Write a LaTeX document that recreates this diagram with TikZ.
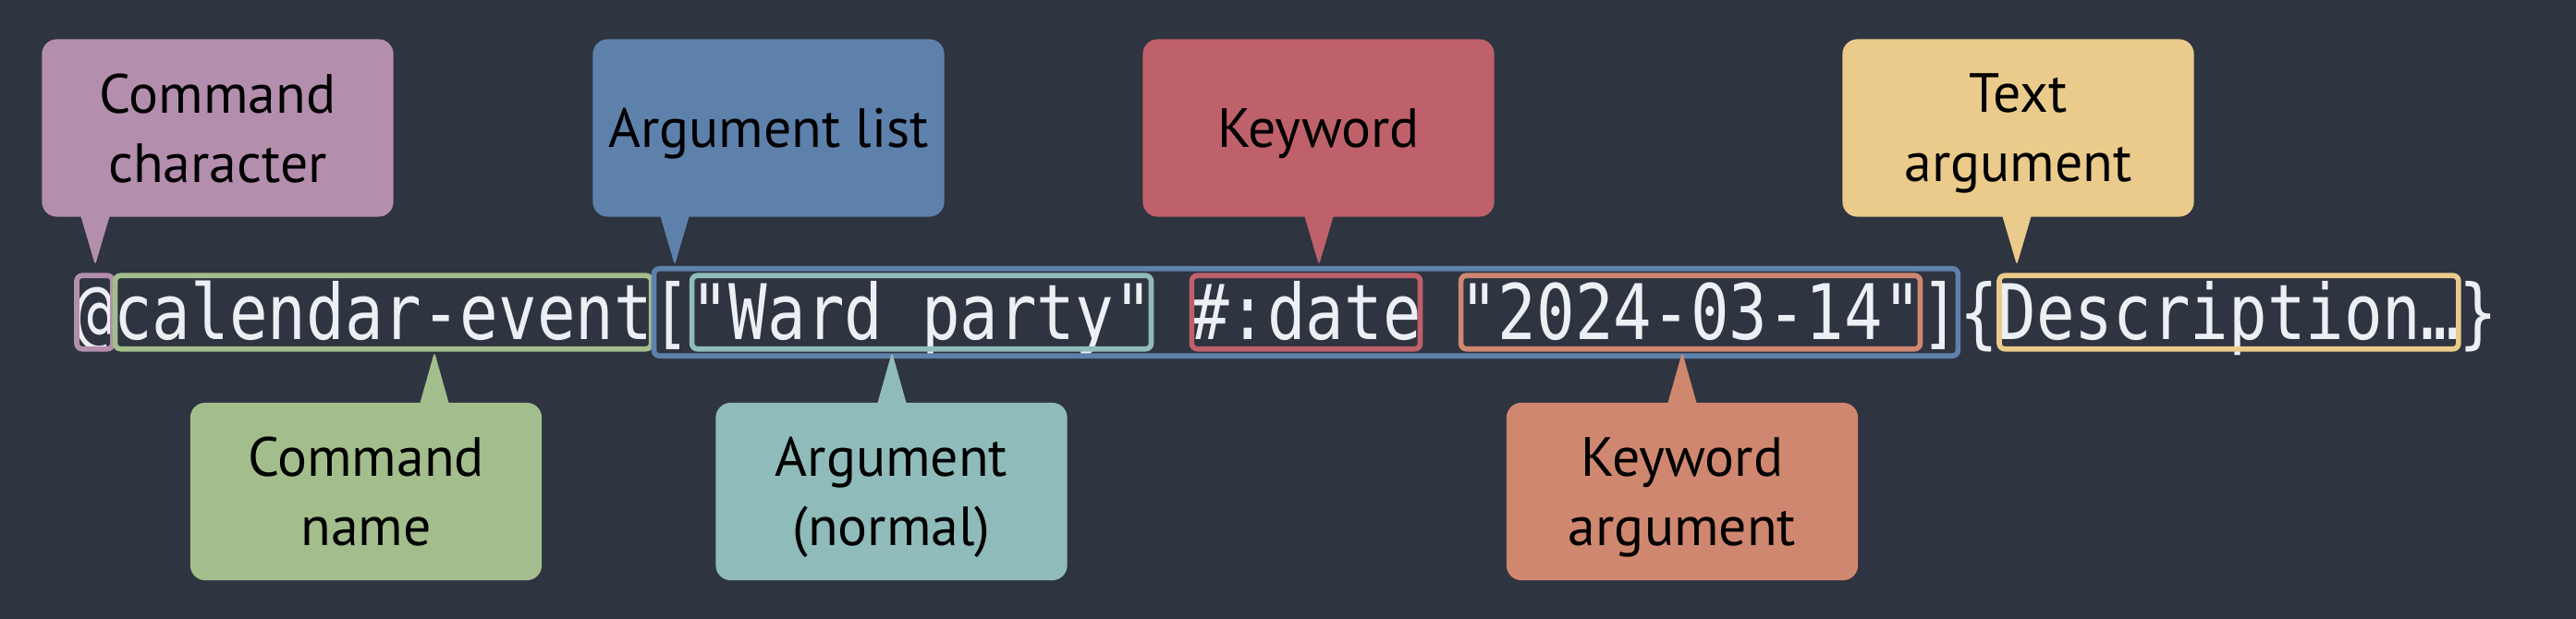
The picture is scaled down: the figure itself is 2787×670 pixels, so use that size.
\documentclass[tikz,border=0pt]{standalone}
\usepackage{fontspec}
\usetikzlibrary{calc,fit}
\newfontfamily\labelfont{PT Sans}
\newfontfamily\codefont{DejaVu Sans Mono}[FakeStretch=0.833]
\definecolor{nordbg}{HTML}{2E3440}
\definecolor{nordfg}{HTML}{ECEFF4}
\definecolor{nordpurple}{HTML}{B48EAD}
\definecolor{nordgreen}{HTML}{A3BE8C}
\definecolor{nordblue}{HTML}{5E81AC}
\definecolor{nordteal}{HTML}{8FBCBB}
\definecolor{nordred}{HTML}{BF616A}
\definecolor{nordorange}{HTML}{D08770}
\definecolor{nordyellow}{HTML}{EBCB8B}

\begin{document}
\begin{tikzpicture}[x=0.01cm, y=-0.01cm,
    tok/.style={anchor=base west, inner sep=0pt, text height=0.68cm, text depth=0.10cm,
        text=nordfg, font=\codefont\fontsize{23.6}{28}\selectfont},
    hl/.style={draw=#1, line width=1.6pt, rounded corners=0.06cm, inner xsep=-0.02cm, inner ysep=0pt},
    labelbox/.style={fill=#1, rounded corners=0.16cm, minimum width=3.8cm, minimum height=1.92cm,
        text depth=0pt, align=center, text=black, font=\labelfont\fontsize{17}{21.3}\selectfont}]
    \fill[nordbg] (0,0) rectangle (2787,670);
    \useasboundingbox (0,0) rectangle (2787,670);

    % the code line
    \node[tok] (tokat) at (81,367) {@};
    \node[tok] (tokcmd) at (122.6,367) {calendar-event};
    \node[tok] (toklbrk) at (705,367) {[};
    \node[tok] (tokarg) at (746.6,367) {"Ward party"};
    \node[tok] (tokkw) at (1287.4,367) {\#:date};
    \node[tok] (tokkwarg) at (1578.6,367) {"2024-03-14"};
    \node[tok] (tokrbrk) at (2077.8,367) {]};
    \node[tok] (toklbrace) at (2119.4,367) {\{};
    \node[tok] (toktext) at (2161,367) {Description…};
    \node[tok] (tokrbrace) at (2660.2,367) {\}};

    % highlights
    \node[hl=nordpurple, fit=(tokat)] (hat) {};
    \node[hl=nordgreen, fit=(tokcmd)] (hcmd) {};
    \node[hl=nordblue, fit=(toklbrk)(tokrbrk), inner xsep=-0.025cm, inner ysep=0.075cm] (hlist) {};
    \node[hl=nordteal, fit=(tokarg)] (harg) {};
    \node[hl=nordred, fit=(tokkw)] (hkw) {};
    \node[hl=nordorange, fit=(tokkwarg)] (hkwarg) {};
    \node[hl=nordyellow, fit=(toktext)] (htext) {};

    % labels above
    \node[labelbox=nordpurple] (lchar) at (235.5,138.5) {Command\\character};
    \node[labelbox=nordblue] (llist) at (831.5,138.5) {Argument list};
    \node[labelbox=nordred] (lkw) at (1426.5,138.5) {Keyword};
    \node[labelbox=nordyellow] (ltext) at (2183.5,138.5) {Text\\argument};
    \coordinate (tchar) at (103,287);
    \coordinate (tlist) at (730,287);
    \coordinate (tkw) at (1427,287);
    \coordinate (ttext) at (2182,287);
    \fill[nordpurple, rounded corners=1pt] ($(tchar |- lchar.south)+(-17,-6)$) -- (tchar) -- ($(tchar |- lchar.south)+(17,-6)$) -- cycle;
    \fill[nordblue, rounded corners=1pt] ($(tlist |- llist.south)+(-17,-6)$) -- (tlist) -- ($(tlist |- llist.south)+(17,-6)$) -- cycle;
    \fill[nordred, rounded corners=1pt] ($(tkw |- lkw.south)+(-17,-6)$) -- (tkw) -- ($(tkw |- lkw.south)+(17,-6)$) -- cycle;
    \fill[nordyellow, rounded corners=1pt] ($(ttext |- ltext.south)+(-17,-6)$) -- (ttext) -- ($(ttext |- ltext.south)+(17,-6)$) -- cycle;

    % labels below
    \node[labelbox=nordgreen] (lcmd) at (396,532) {Command\\name};
    \node[labelbox=nordteal] (larg) at (964.5,532) {Argument\\(normal)};
    \node[labelbox=nordorange] (lkwarg) at (1820,532) {Keyword\\argument};
    \coordinate (tcmd) at (470,381);
    \coordinate (targ) at (965,381);
    \coordinate (tkwarg) at (1820,381);
    \fill[nordgreen, rounded corners=1pt] ($(tcmd |- lcmd.north)+(-17,6)$) -- (tcmd) -- ($(tcmd |- lcmd.north)+(17,6)$) -- cycle;
    \fill[nordteal, rounded corners=1pt] ($(targ |- larg.north)+(-17,6)$) -- (targ) -- ($(targ |- larg.north)+(17,6)$) -- cycle;
    \fill[nordorange, rounded corners=1pt] ($(tkwarg |- lkwarg.north)+(-17,6)$) -- (tkwarg) -- ($(tkwarg |- lkwarg.north)+(17,6)$) -- cycle;
\end{tikzpicture}
\end{document}
